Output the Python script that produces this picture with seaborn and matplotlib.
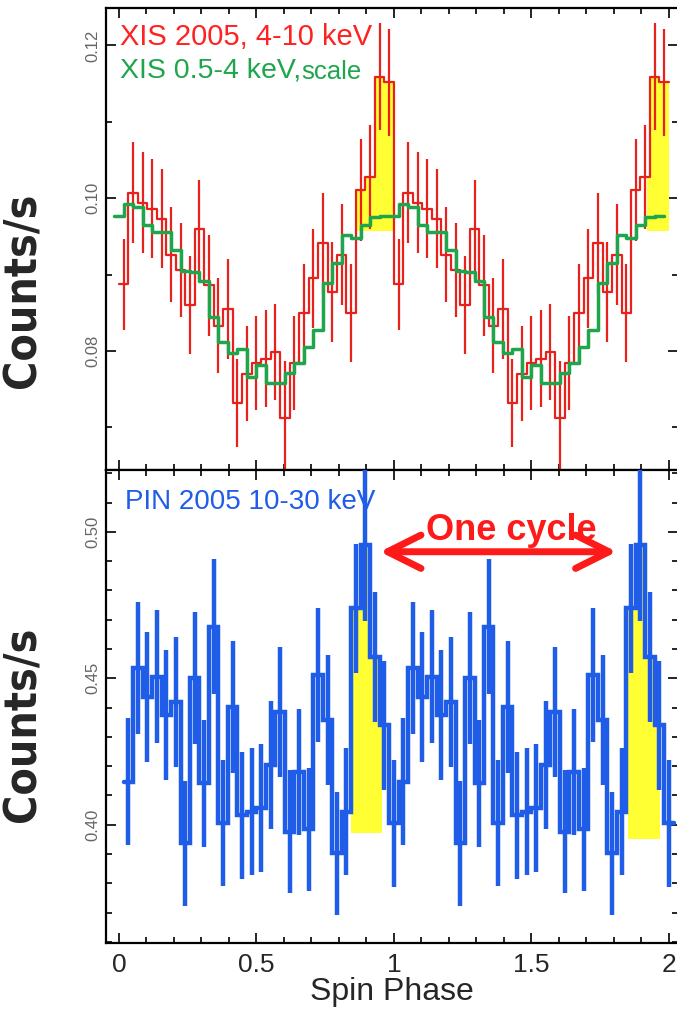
import numpy as np
import pandas as pd
import matplotlib
matplotlib.use("Agg")
import matplotlib.pyplot as plt
from matplotlib.ticker import MultipleLocator, FormatStrFormatter
import seaborn as sns

# folded light curves, 29 phase bins per cycle, the cycle is shown twice
n_bin = 29

# XIS 4-10 keV (red), bins centred at (k+0.5)/29
xis_hard = [0.0887, 0.1007, 0.0994, 0.0986, 0.0973, 0.0926, 0.0906, 0.0860, 0.0959,
            0.0886, 0.0833, 0.0855, 0.0732, 0.0770, 0.0784, 0.0790, 0.0799, 0.0712,
            0.0784, 0.0850, 0.0895, 0.0941, 0.0877, 0.0926, 0.0850, 0.1011, 0.1028,
            0.1159, 0.1152]
xis_hard_err = [0.0060, 0.0066, 0.0066, 0.0065, 0.0065, 0.0062, 0.0062, 0.0064, 0.0065,
                0.0066, 0.0062, 0.0065, 0.0058, 0.0062, 0.0062, 0.0063, 0.0063, 0.0075,
                0.0062, 0.0064, 0.0065, 0.0066, 0.0065, 0.0066, 0.0064, 0.0067, 0.0068,
                0.0070, 0.0070]

# XIS 0.5-4 keV scaled (green), bins centred at k/29
xis_soft = [0.0977, 0.0993, 0.0989, 0.0965, 0.0956, 0.0956, 0.0932, 0.0905, 0.0903,
            0.0892, 0.0845, 0.0812, 0.0797, 0.0803, 0.0766, 0.0781, 0.0758, 0.0758,
            0.0771, 0.0784, 0.0805, 0.0827, 0.0889, 0.0915, 0.0952, 0.0948, 0.0965,
            0.0975, 0.0977]

# PIN 10-30 keV (blue), bins centred at k/29, k = 1..29
pin = [0.4147, 0.4534, 0.4437, 0.4505, 0.4375, 0.4420, 0.3936, 0.4500, 0.4141,
       0.4676, 0.4005, 0.4403, 0.4032, 0.4044, 0.4056, 0.4204, 0.4386, 0.3976,
       0.4181, 0.3985, 0.4511, 0.4358, 0.3902, 0.4044, 0.4739, 0.4955, 0.4574,
       0.4340, 0.4005]
pin_err = [0.0216, 0.0225, 0.0222, 0.0227, 0.0222, 0.0222, 0.0213, 0.0225, 0.0216,
           0.0230, 0.0216, 0.0225, 0.0217, 0.0217, 0.0218, 0.0219, 0.0222, 0.0210,
           0.0215, 0.0210, 0.0228, 0.0222, 0.0210, 0.0217, 0.0220, 0.0260, 0.0222,
           0.0220, 0.0217]

# highlighted pulse (start, stop, floor)
hard_marks = [(0.862, 1.0, 0.0957), (1.92, 2.0, 0.0957)]
pin_marks = [(0.843, 0.958, 0.397), (1.851, 1.966, 0.395)]

RED = "#e8211c"
GREEN = "#1fa64c"
BLUE = "#1f5ce8"
YELLOW = "#ffff33"


def step_frame(values, first_edge):
    v = np.tile(values, 2)
    edges = first_edge + np.arange(len(v) + 1) / n_bin
    return pd.DataFrame({"phase": edges, "rate": np.append(v, v[-1])})


def centres(values, first_centre):
    v = np.tile(values, 2)
    return first_centre + np.arange(len(v)) / n_bin, v


def mark(ax, df, start, stop, floor):
    x = np.clip(df["phase"].values, start, stop)
    ax.fill_between(x, df["rate"].values, floor, step="post", color=YELLOW,
                    lw=0, zorder=1)


sns.set_theme(style="ticks")
plt.rcParams["font.family"] = ["Liberation Sans", "DejaVu Sans"]

fig = plt.figure(figsize=(6.77, 10.13), dpi=100)
ax1 = fig.add_axes([0.1561, 0.5360, 0.846, 0.4561])
ax2 = fig.add_axes([0.1561, 0.0688, 0.846, 0.4672], sharex=ax1)

# top panel: XIS
hard = step_frame(xis_hard, 0.0)
soft = step_frame(xis_soft, -0.5 / n_bin)
for s, e, f in hard_marks:
    mark(ax1, hard, s, e, f)
xc, yc = centres(xis_hard, 0.5 / n_bin)
ec = np.tile(xis_hard_err, 2)
ax1.vlines(xc, yc - ec, yc + ec, color=RED, lw=1.6, zorder=2)
sns.lineplot(data=hard, x="phase", y="rate", drawstyle="steps-post", color=RED,
             lw=1.6, estimator=None, errorbar=None, ax=ax1, zorder=3)
sns.lineplot(data=soft, x="phase", y="rate", drawstyle="steps-post", color=GREEN,
             lw=2.5, estimator=None, errorbar=None, ax=ax1, zorder=4)

# bottom panel: PIN
hx = step_frame(pin, 0.5 / n_bin)
for s, e, f in pin_marks:
    mark(ax2, hx, s, e, f)
xc, yc = centres(pin, 1.0 / n_bin)
ec = np.tile(pin_err, 2)
ax2.vlines(xc, yc - ec, yc + ec, color=BLUE, lw=3.2, zorder=3)
sns.lineplot(data=hx, x="phase", y="rate", drawstyle="steps-post", color=BLUE,
             lw=3.2, estimator=None, errorbar=None, ax=ax2, zorder=3,
             solid_joinstyle="miter")

ax1.set_xlim(-0.048, 2.0345)
ax1.set_ylim(0.0644, 0.1249)
ax2.set_ylim(0.3595, 0.5211)
ax1.yaxis.set_major_locator(MultipleLocator(0.02))
ax1.yaxis.set_minor_locator(MultipleLocator(0.01))
ax2.yaxis.set_major_locator(MultipleLocator(0.05))
ax2.yaxis.set_minor_locator(MultipleLocator(0.01))
ax2.xaxis.set_major_locator(MultipleLocator(0.5))
ax2.xaxis.set_minor_locator(MultipleLocator(0.1))
ax2.xaxis.set_major_formatter(FormatStrFormatter("%g"))

for ax in (ax1, ax2):
    ax.set_xlabel("")
    ax.set_ylabel("")
    ax.yaxis.set_major_formatter(FormatStrFormatter("%.2f"))
    ax.tick_params(which="both", direction="in", top=True, right=True,
                   color="black", width=1.2)
    ax.tick_params(which="major", length=7)
    ax.tick_params(which="minor", length=4)
    ax.tick_params(axis="y", labelsize=12, labelcolor="#666666", labelrotation=90,
                   pad=4)
    for lab in ax.get_yticklabels():
        lab.set_va("center")
    for sp in ax.spines.values():
        sp.set_linewidth(1.6)
        sp.set_color("black")

ax1.tick_params(labelbottom=False)
ax2.tick_params(axis="x", labelsize=19, pad=7)
ax2.set_xlabel("Spin Phase", fontsize=23, labelpad=0)

# labels
ax1.text(0.025, 0.937, "XIS 2005, 4-10 keV", transform=ax1.transAxes, color="#ff2222",
         fontsize=21, ha="left", va="center", zorder=1)
t = ax1.text(0.025, 0.864, "XIS 0.5-4 keV,", transform=ax1.transAxes, color=GREEN,
             fontsize=20.5, ha="left", va="center", zorder=1)
ax1.annotate("scale", xy=(1, 0), xycoords=t, color=GREEN, fontsize=18.5,
             ha="left", va="bottom", zorder=1)
ax2.text(0.034, 0.932, "PIN 2005 10-30 keV", transform=ax2.transAxes, color=BLUE,
         fontsize=20, ha="left", va="center", zorder=1)

ax2.annotate("", xy=(0.949, 0.4932), xytext=(1.81, 0.4932),
             arrowprops=dict(arrowstyle="<->,head_length=1.2,head_width=0.6",
                             lw=5, color="#ff1a1a", mutation_scale=20,
                             shrinkA=0, shrinkB=0, capstyle="round",
                             joinstyle="round"))
ax2.text(1.4255, 0.4972, "One cycle", color="#ff1a1a", fontsize=26,
         fontweight="bold", ha="center", va="baseline")

for yc_lab in (0.7137, 0.2853):
    fig.text(0.034, yc_lab, "Counts/s", rotation=90, ha="center", va="center",
             fontsize=32, fontweight="bold", fontstretch="condensed",
             family="DejaVu Sans")

fig.savefig("out.png", dpi=100)
